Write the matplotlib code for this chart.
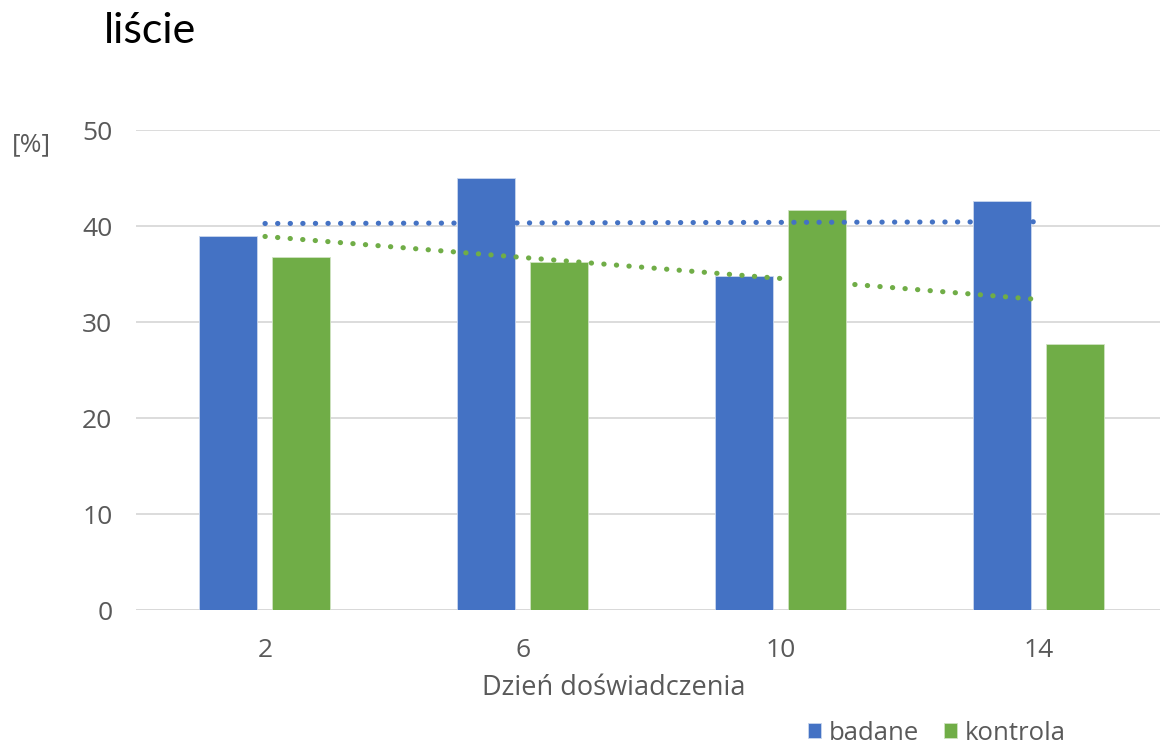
import numpy as np
import matplotlib.pyplot as plt

# data
dni = ["2", "6", "10", "14"]
badane = [39.0, 45.0, 34.8, 42.6]
kontrola = [36.8, 36.3, 41.7, 27.7]

niebieski = "#4472C4"
zielony = "#70AD47"
szary = "#595959"

plt.rcParams['font.family'] = ['Open Sans', 'DejaVu Sans']

fig = plt.figure(figsize=(11.6, 7.46), dpi=100)
ax = fig.add_axes([136/1160, 136/746, 1032/1160, 480/746])

x = np.arange(len(dni))
w = 0.225
ax.bar(x - 0.143, badane, w, color=niebieski, edgecolor="#c9d6ee", linewidth=0.6, label="badane", zorder=2)
ax.bar(x + 0.141, kontrola, w, color=zielony, edgecolor="#cfe3c2", linewidth=0.6, label="kontrola", zorder=2)

# linear trend lines
for seria, kolor in [(badane, niebieski), (kontrola, zielony)]:
    a, b = np.polyfit(x, seria, 1)
    ax.plot(x, a * x + b, color=kolor, linewidth=3.7, linestyle=(0, (0.05, 2.4)),
            dash_capstyle="round", zorder=3)

ax.set_xlim(-0.5, 3.5)
ax.set_ylim(0, 50)
ax.set_yticks(range(0, 51, 10))
ax.set_xticks(x)
ax.set_xticklabels(dni)
ax.grid(axis="y", color="#d9d9d9", linewidth=1.3, zorder=0)
for s in ax.spines.values():
    s.set_visible(False)
ax.axhline(0, color="#d9d9d9", linewidth=1.3, zorder=1)
ax.tick_params(length=0, labelsize=19, colors=szary, pad=20)
ax.tick_params(axis="y", pad=17)

fig.text(614/1160, 1 - 688/746, "Dzień doświadczenia", fontsize=19.5, color=szary,
         ha="center", va="center")
fig.text(12/1160, 1 - 145/746, "[%]", fontsize=19, color=szary, va="center")
fig.text(104/1160, 1 - 31/746, "liście", fontsize=31, color="black", va="center",
         family=['Lato', 'DejaVu Sans'])

fig.legend(loc="center left", bbox_to_anchor=(808/1160, 1 - 733/746), ncol=2, frameon=False,
           fontsize=18.5, labelcolor=szary, handlelength=0.5, handleheight=0.5,
           handletextpad=0.3, columnspacing=1.0, borderpad=0, borderaxespad=0)

fig.savefig("out.png", dpi=100)
